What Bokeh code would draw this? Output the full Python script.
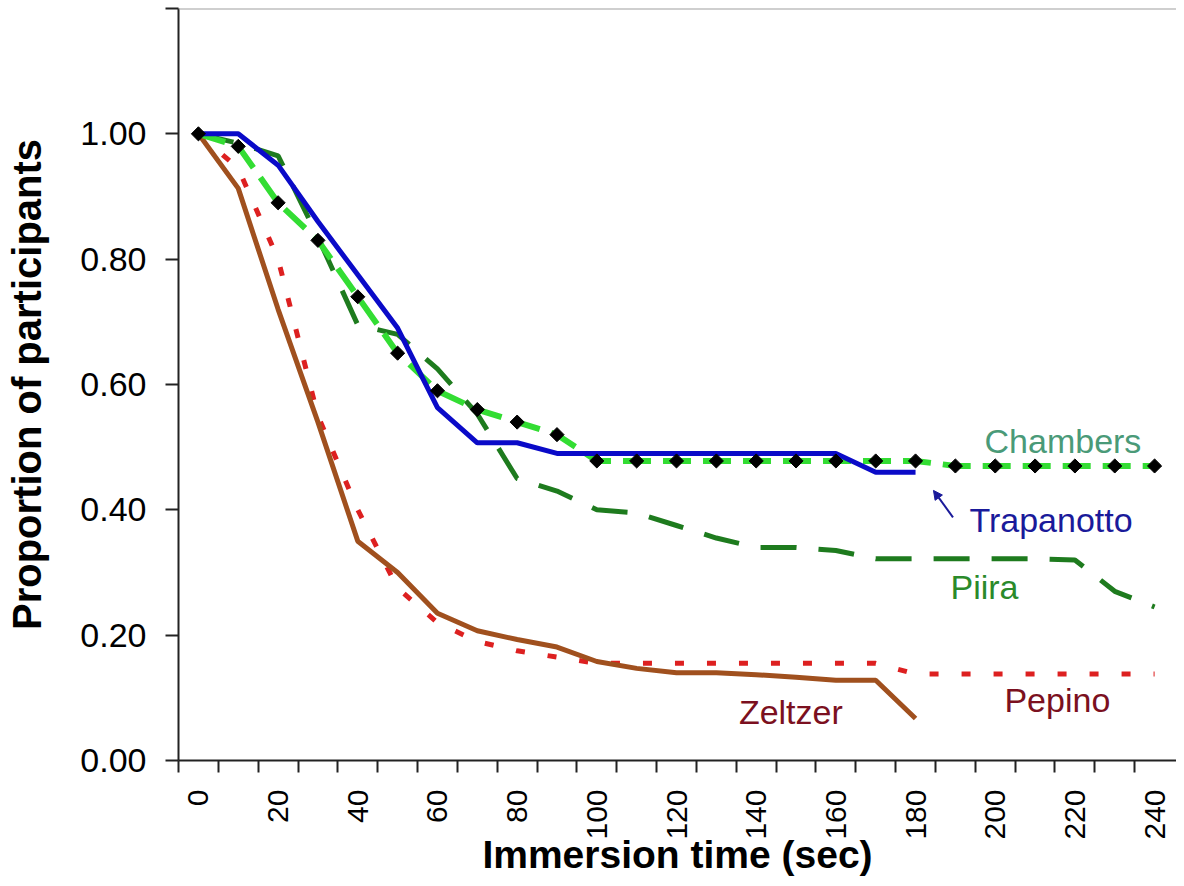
import math
from bokeh.plotting import figure
from bokeh.models import (FixedTicker, Span, Arrow, NormalHead, Label, Range1d,
                          NumeralTickFormatter)
from bokeh.embed import file_html
from bokeh.resources import INLINE

# ---- data ----
time_long = [0, 10, 20, 30, 40, 50, 60, 70, 80, 90, 100, 110, 120, 130, 140,
             150, 160, 170, 180, 190, 200, 210, 220, 230, 240]
time_short = [0, 10, 20, 30, 40, 50, 60, 70, 80, 90, 100, 110, 120, 130, 140,
              150, 160, 170, 180]

chambers = [1.00, 0.98, 0.89, 0.83, 0.74, 0.65, 0.59, 0.56, 0.54, 0.52, 0.478,
            0.478, 0.478, 0.478, 0.478, 0.478, 0.478, 0.478, 0.478, 0.47, 0.47,
            0.47, 0.47, 0.47, 0.47]
piira = [1.00, 0.985, 0.965, 0.835, 0.695, 0.68, 0.625, 0.553, 0.45, 0.43, 0.40,
         0.395, 0.375, 0.355, 0.34, 0.34, 0.335, 0.322, 0.322, 0.322, 0.322,
         0.322, 0.32, 0.27, 0.245]
pepino = [1.00, 0.945, 0.80, 0.55, 0.40, 0.275, 0.22, 0.19, 0.175, 0.165, 0.155,
          0.155, 0.155, 0.155, 0.155, 0.155, 0.155, 0.155, 0.138, 0.138, 0.138,
          0.138, 0.138, 0.138, 0.138]
trapanotto = [1.00, 1.00, 0.95, 0.86, 0.775, 0.69, 0.563, 0.507, 0.507, 0.49,
              0.49, 0.49, 0.49, 0.49, 0.49, 0.49, 0.49, 0.46, 0.46]
zeltzer = [1.00, 0.913, 0.72, 0.54, 0.35, 0.30, 0.235, 0.207, 0.193, 0.181,
           0.158, 0.147, 0.14, 0.14, 0.137, 0.133, 0.128, 0.128, 0.067]

x_label_ticks = [0, 20, 40, 60, 80, 100, 120, 140, 160, 180, 200, 220, 240]
x_minor_ticks = [-5, 5, 15, 25, 35, 45, 55, 65, 75, 85, 95, 105, 115, 125, 135,
                 145, 155, 165, 175, 185, 195, 205, 215, 225, 235]
y_ticks = [0, 0.2, 0.4, 0.6, 0.8, 1.0, 1.2]

FONT = "Liberation Sans"

p = figure(width=1176, height=878, x_range=Range1d(-5, 245.5),
           y_range=Range1d(0, 1.2), output_backend="svg",
           toolbar_location=None, min_border_top=8, min_border_left=178,
           min_border_right=0, min_border_bottom=118)
p.outline_line_color = None
p.grid.visible = False
p.background_fill_color = "white"

# x axis
xa = p.xaxis[0]
xa.ticker = FixedTicker(ticks=x_label_ticks, minor_ticks=x_minor_ticks)
xa.major_tick_out = 0
xa.major_tick_in = 0
xa.minor_tick_out = 12
xa.minor_tick_in = 0
xa.minor_tick_line_color = "#222222"
xa.minor_tick_line_width = 2
xa.axis_line_color = "#222222"
xa.axis_line_width = 2
xa.major_label_orientation = math.pi / 2
xa.major_label_standoff = 17
xa.major_label_text_font = FONT
xa.major_label_text_font_size = "30px"
xa.major_label_text_color = "black"
xa.axis_label = "Immersion time (sec)"
xa.axis_label_text_font = FONT
xa.axis_label_text_font_style = "bold"
xa.axis_label_text_font_size = "39px"
xa.axis_label_text_color = "black"
xa.axis_label_standoff = -10

# y axis
ya = p.yaxis[0]
ya.ticker = FixedTicker(ticks=y_ticks)
ya.formatter = NumeralTickFormatter(format="0.00")
ya.major_label_overrides = {1.2: ""}
ya.major_tick_out = 13
ya.major_tick_in = 0
ya.minor_tick_out = 0
ya.minor_tick_in = 0
ya.major_tick_line_color = "#222222"
ya.major_tick_line_width = 2
ya.axis_line_color = "#222222"
ya.axis_line_width = 2
ya.major_label_standoff = 19
ya.major_label_text_font = FONT
ya.major_label_text_font_size = "34px"
ya.major_label_text_color = "black"
ya.axis_label = "Proportion of participants"
ya.axis_label_text_font = FONT
ya.axis_label_text_font_style = "bold"
ya.axis_label_text_font_size = "40px"
ya.axis_label_text_color = "black"
ya.axis_label_standoff = 28

# top border line
p.add_layout(Span(location=1.2, dimension="width", line_color="#a0a0a0",
                  line_width=2))

# series
p.line(time_long, piira, line_color="#1e7b1e", line_width=5,
       line_dash="36 22")
p.line(time_long, pepino, line_color="#dd2020", line_width=5,
       line_dash="9 23")
p.line(time_short, zeltzer, line_color="#a0501e", line_width=5)
p.line(time_long, chambers, line_color="#33dd33", line_width=6,
       line_dash="28 12")
p.line(time_short, trapanotto, line_color="#0a0ac8", line_width=5)
p.scatter(time_long, chambers, marker="square", angle=math.pi / 4, size=10,
          fill_color="black", line_color="black")

# labels
def add_label(x, y, text, color):
    p.add_layout(Label(x=x, y=y, text=text, text_color=color,
                       text_font=FONT, text_font_size="34px",
                       text_align="center", text_baseline="alphabetic"))

add_label(217.0, 0.510, "Chambers", "#4a9a78")
add_label(214.0, 0.383, "Trapanotto", "#1a1a9a")
add_label(197.3, 0.277, "Piira", "#2a8a2a")
add_label(148.7, 0.078, "Zeltzer", "#7b1020")
add_label(215.6, 0.096, "Pepino", "#7b1020")

p.add_layout(Arrow(end=NormalHead(size=9, fill_color="#1a1a9a",
                                  line_color="#1a1a9a"),
                   x_start=189.4, y_start=0.388, x_end=184.5, y_end=0.431,
                   line_color="#1a1a9a", line_width=2))

open("out.html", "w").write(file_html(p, INLINE))
